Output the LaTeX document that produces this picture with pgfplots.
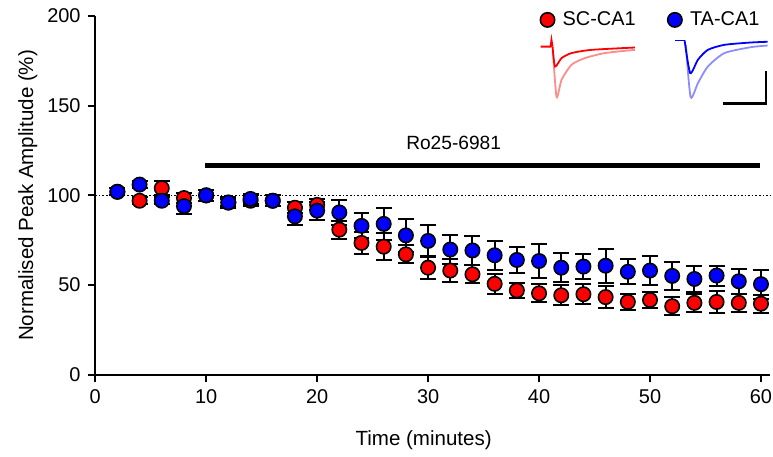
\documentclass[border=0pt]{standalone}
\usepackage{fontspec}
\setmainfont{Liberation Sans}
\usepackage{pgfplots}
\pgfplotsset{compat=1.18}
\usepackage{pgfplotstable}

\definecolor{scred}{RGB}{255,0,0}
\definecolor{tablue}{RGB}{0,0,255}

% t, SC-CA1 mean, sem, TA-CA1 mean, sem
\pgfplotstableread{
t  sc    scerr ta    taerr
2  102   2     102   2
4  97    2     106   2
6  104   4     97    2
8  98.5  3     94    4.5
10 100   3     100   3
12 96    2     96    3
14 97    3     98    3
16 97    3     97    3
18 93.1  3     88.3  5
20 94.7  3     91.5  5
22 80.9  5     90.5  7
24 73.5  6     83.0  7
26 71.4  7.5   84.1  9
28 67.1  5     77.7  9
30 59.7  6.5   74.6  9
32 58.1  6.5   69.8  8
34 56.0  5     69.3  8
36 50.7  5.5   66.6  8
38 47.0  4     64.0  7
40 45.4  5     63.4  9.5
42 44.3  5.5   59.7  8
44 44.9  5.5   60.3  7
46 43.3  6     60.8  9.5
48 40.6  4.6   57.4  7
50 41.7  4.3   58.1  8
52 38.2  5     55.1  8
54 40.1  5     53.4  7
56 40.6  6     55.3  5.6
58 40.1  5     52.1  7
60 39.6  5     50.5  8
}\data

\begin{document}
\begin{tikzpicture}
\useasboundingbox (-47.75pt,-41pt) rectangle (340pt,188pt);
\begin{axis}[
    at={(0,0)}, anchor=south west,
    scale only axis,
    width=338.7pt, height=180pt,
    xmin=0, xmax=60.85, ymin=0, ymax=200,
    axis lines=left,
    axis line style={-, line width=0.9pt},
    tick style={line width=0.9pt, black},
    tick align=outside,
    major tick length=3.8pt,
    xtick={0,10,...,60},
    ytick={0,50,...,200},
    clip=false,
    font=\fontsize{10}{12}\selectfont,
    /pgf/number format/assume math mode=true,
    xlabel={Time (minutes)},
    ylabel={Normalised Peak Amplitude (\%)},
    every axis x label/.style={at={(axis cs:29.6,0)}, yshift=-33pt, anchor=center,
        font=\fontsize{10.3}{12}\selectfont},
    every axis y label/.style={at={(axis description cs:0,0.5)}, xshift=-33.75pt,
        rotate=90, anchor=center, font=\fontsize{10.3}{12}\selectfont},
    legend style={draw=none, fill=none, at={(axis cs:40.08,197.8)}, anchor=west,
        inner sep=0pt, legend columns=2, font=\fontsize{10}{12}\selectfont,
        /tikz/every odd column/.append style={column sep=2pt},
        /tikz/every even column/.append style={column sep=14pt}},
    legend image code/.code={\draw[#1] plot coordinates {(0pt,0pt)};},
    legend cell align=left,
]
% baseline
\addplot[forget plot, black, line width=0.8pt, densely dotted] coordinates {(0,100) (60.85,100)};
% drug application bar
\addplot[forget plot, black, line width=2.6pt] coordinates {(9.9,116.7) (59.9,116.7)};
\node[font=\fontsize{9.6}{12}\selectfont] at (axis cs:32.3,129.5) {Ro25-6981};

\addplot[only marks, mark=*, mark size=3.6pt,
    mark options={fill=scred, draw=black, line width=0.8pt},
    error bars/.cd, y dir=both, y explicit,
    error bar style={line width=1pt, black},
    error mark options={rotate=90, mark size=4pt, line width=1pt, black}]
    table[x=t, y=sc, y error=scerr] {\data};
\addplot[only marks, mark=*, mark size=3.6pt,
    mark options={fill=tablue, draw=black, line width=0.8pt},
    error bars/.cd, y dir=both, y explicit,
    error bar style={line width=1pt, black},
    error mark options={rotate=90, mark size=4pt, line width=1pt, black}]
    table[x=t, y=ta, y error=taerr] {\data};
\legend{SC-CA1, TA-CA1}

% example traces
\addplot[forget plot, scred!45, line width=0.9pt, smooth, tension=0.4] coordinates {
    (41.24,181.1) (41.58,154.8) (42.03,164.4) (42.93,172.8) (44.13,176.5) (45.93,179.3) (48.63,181.1)};
\addplot[forget plot, scred, line width=0.9pt] coordinates {
    (40.14,182.9) (41.04,182.9) (41.12,186.7) (41.22,182.9)};
\addplot[forget plot, scred, line width=0.9pt, smooth, tension=0.4] coordinates {
    (41.22,182.9) (41.44,171.8) (42.03,176.5) (42.93,179.3) (44.73,181.1) (48.63,182.4)};
\addplot[forget plot, tablue!45, line width=0.9pt, smooth, tension=0.4] coordinates {
    (53.23,183.9) (53.66,154.8) (54.32,162.6) (55.21,171.8) (56.71,179.3) (59.10,182.6) (60.60,183.5)};
\addplot[forget plot, tablue, line width=0.9pt] coordinates {
    (52.27,186.3) (53.12,186.3)};
\addplot[forget plot, tablue, line width=0.9pt, smooth, tension=0.4] coordinates {
    (53.12,186.3) (53.62,168.2) (54.32,175.6) (55.21,181.1) (56.71,183.9) (59.10,185.2) (60.60,185.6)};
% scale bar
\addplot[forget plot, black, line width=1.2pt] coordinates {
    (56.56,151.1) (60.45,151.1) (60.45,169.1)};
\end{axis}
\end{tikzpicture}
\end{document}
